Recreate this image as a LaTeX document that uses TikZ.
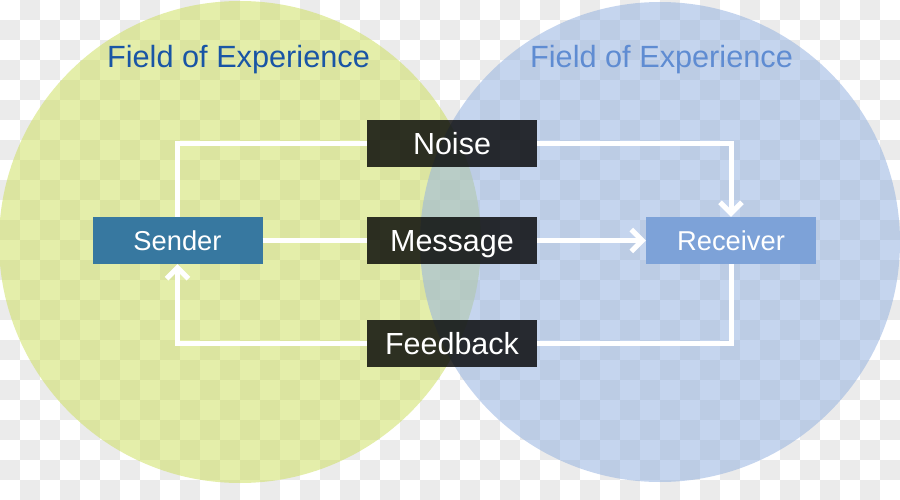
\documentclass[tikz,border=0pt]{standalone}
\usepackage{fontspec}
\setmainfont{Liberation Sans}
\usepackage{xcolor}
\usepackage{tikz}
\usetikzlibrary{arrows.meta}

\definecolor{checkgray}{RGB}{235,235,235}
\definecolor{leftfield}{RGB}{206,224,100}
\definecolor{rightfield}{RGB}{150,179,224}
\definecolor{sendblue}{RGB}{55,120,160}
\definecolor{recvblue}{RGB}{125,162,216}
\definecolor{titledark}{RGB}{25,85,165}
\definecolor{titlelight}{RGB}{95,140,210}

\begin{document}
\begin{tikzpicture}[x=1pt, y=-1pt,
    >={Straight Barb[length=11pt,width=22pt]},
    flow/.style={white, line width=5pt},
    midbox/.style={fill=black, fill opacity=0.8, text opacity=1, text=white,
        minimum width=170pt, minimum height=47pt, inner sep=0pt,
        text height=22pt, text depth=0pt, font=\fontsize{30.5}{36}\selectfont},
    endbox/.style={text=white, minimum width=170pt, minimum height=47pt, inner sep=0pt,
        text height=19.5pt, text depth=0pt, font=\fontsize{27.3}{33}\selectfont},
    fieldtitle/.style={anchor=base, font=\fontsize{30.7}{37}\selectfont}]
    \useasboundingbox (0,0) rectangle (900,500);
    % checkered background
    \foreach \i in {0,...,44}{
        \foreach \j in {0,...,24}{
            \pgfmathtruncatemacro{\odd}{mod(\i+\j,2)}
            \ifnum\odd=1 \fill[checkgray] (20*\i,20*\j) rectangle ++(20,20); \fi
        }
    }
    % fields of experience
    \fill[leftfield, fill opacity=0.55] (240,242) circle [radius=241pt];
    \fill[rightfield, fill opacity=0.55] (660,242) circle [radius=240pt];
    \node[fieldtitle, text=titledark] (lefttitle) at (238.5,68) {Field of Experience};
    \node[fieldtitle, text=titlelight] (righttitle) at (661.5,68) {Field of Experience};
    % boxes
    \node[endbox, fill=sendblue] (sender) at (177.5,240.5) {Sender};
    \node[endbox, fill=recvblue] (receiver) at (731,240.5) {Receiver};
    \node[midbox] (noise) at (452,143.5) {Noise};
    \node[midbox] (message) at (452,240.5) {Message};
    \node[midbox] (feedback) at (452,343) {Feedback};
    % connectors
    \draw[flow] (noise.west) -| (sender.north);
    \draw[flow,->] (noise.east) -| (receiver.north);
    \draw[flow] (sender.east) -- (message.west);
    \draw[flow,->] (message.east) -- (receiver.west);
    \draw[flow] (receiver.south) |- (feedback.east);
    \draw[flow,->] (feedback.west) -| (sender.south);
\end{tikzpicture}
\end{document}
